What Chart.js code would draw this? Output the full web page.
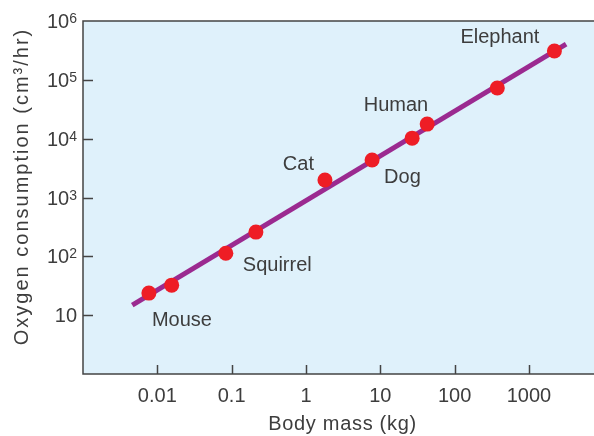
<!DOCTYPE html>
<html>
<head>
<meta charset="utf-8">
<script src="https://cdn.jsdelivr.net/npm/chart.js@4/dist/chart.umd.min.js"></script>
<style>
  html, body { margin: 0; padding: 0; background: #fff; }
  canvas { display: block; }
</style>
</head>
<body>
<canvas id="chart" width="594" height="436"></canvas>
<script>
// Datos (escala log-log)
const animalNames = ['Mouse', '', 'Squirrel', '', 'Cat', 'Dog', '', 'Human', '', 'Elephant'];
const bodyMass = [0.0077, 0.0156, 0.0835, 0.212, 1.80, 7.75, 26.8, 42.7, 375, 2200];
const oxygenUse = [23.7, 32.4, 113, 258, 1980, 4330, 10200, 17700, 72600, 309000];

// Recta de ajuste (extremos)
const fitMass = [0.0046, 3160];
const fitOxygen = [14.8, 406000];

// Marcas de los ejes
const xTickValues = [0.01, 0.1, 1, 10, 100, 1000];
const xTickLabels = ['0.01', '0.1', '1', '10', '100', '1000'];
const yTickValues = [10, 100, 1000, 10000, 100000, 1000000];
const yTickExponents = ['', '2', '3', '4', '5', '6'];

const xTitle = 'Body mass (kg)';
const yTitle = 'Oxygen consumption (cm³/hr)';

// Posicion de cada etiqueta respecto a su punto: [dx, dy, alineacion]
const labelOffsets = {
    Mouse: [3, 33, 'left'],
    Squirrel: [17, 17.5, 'left'],
    Cat: [-11, -10.5, 'right'],
    Dog: [12, 23, 'left'],
    Human: [1, -13.5, 'right'],
    Elephant: [-15, -8, 'right']
};

const textColor = '#3d3d3d';
const axisColor = '#444444';
const font = '20px "Liberation Sans", Arial, sans-serif';

const figurePlugin = {
    id: 'figure',
    beforeDraw(chart) {
        const { ctx, chartArea } = chart;
        ctx.save();
        ctx.fillStyle = '#dff1fb';
        ctx.fillRect(chartArea.left, chartArea.top, chartArea.right - chartArea.left, chartArea.bottom - chartArea.top);
        ctx.restore();
    },
    afterDraw(chart) {
        const { ctx, chartArea } = chart;
        const x = chart.scales.x, y = chart.scales.y;
        ctx.save();

        // marco: arriba, izquierda, abajo
        ctx.strokeStyle = axisColor;
        ctx.lineWidth = 1.5;
        ctx.beginPath();
        ctx.moveTo(chartArea.right, chartArea.top);
        ctx.lineTo(chartArea.left, chartArea.top);
        ctx.lineTo(chartArea.left, chartArea.bottom);
        ctx.lineTo(chartArea.right, chartArea.bottom);
        ctx.stroke();

        // marcas hacia dentro
        ctx.beginPath();
        xTickValues.forEach(v => {
            const px = Math.round(x.getPixelForValue(v)) + 0.5;
            ctx.moveTo(px, chartArea.bottom);
            ctx.lineTo(px, chartArea.bottom - 9);
        });
        yTickValues.slice(0, -1).forEach(v => {
            const py = Math.round(y.getPixelForValue(v)) + 0.5;
            ctx.moveTo(chartArea.left, py);
            ctx.lineTo(chartArea.left + 10, py);
        });
        ctx.stroke();

        ctx.fillStyle = textColor;
        ctx.font = font;

        // etiquetas eje x
        ctx.textAlign = 'center';
        ctx.textBaseline = 'alphabetic';
        xTickValues.forEach((v, i) => {
            ctx.fillText(xTickLabels[i], x.getPixelForValue(v), 402);
        });

        // etiquetas eje y con exponente
        const supFont = '14px "Liberation Sans", Arial, sans-serif';
        yTickValues.forEach((v, i) => {
            const py = y.getPixelForValue(v);
            const right = chartArea.left - 6;
            const exp = yTickExponents[i];
            ctx.textAlign = 'right';
            if (exp) {
                ctx.font = supFont;
                const w = ctx.measureText(exp).width;
                ctx.fillText(exp, right, py + 2);
                ctx.font = font;
                ctx.fillText('10', right - w, py + 7);
            } else {
                ctx.font = font;
                ctx.fillText('10', right, py + 7);
            }
        });

        // titulos
        ctx.font = font;
        ctx.textAlign = 'center';
        ctx.letterSpacing = '0.7px';
        ctx.fillText(xTitle, (chartArea.left + chartArea.right) / 2 + 4, 430);
        ctx.save();
        ctx.letterSpacing = '2px';
        ctx.translate(27.5, 186.5);
        ctx.rotate(-Math.PI / 2);
        ctx.fillText(yTitle, 0, 0);
        ctx.restore();
        ctx.letterSpacing = '0px';

        // nombres de los animales
        const meta = chart.getDatasetMeta(0);
        animalNames.forEach((name, i) => {
            if (!name) return;
            const pt = meta.data[i];
            const off = labelOffsets[name];
            ctx.textAlign = off[2];
            ctx.fillText(name, pt.x + off[0], pt.y + off[1]);
        });

        ctx.restore();
    }
};

new Chart(document.getElementById('chart'), {
    type: 'scatter',
    data: {
        datasets: [
            {
                label: 'Animals',
                data: bodyMass.map((m, i) => ({ x: m, y: oxygenUse[i] })),
                pointRadius: 7.5,
                pointHoverRadius: 7.5,
                pointBackgroundColor: '#ee1d25',
                pointBorderWidth: 0,
                showLine: false,
                order: 0
            },
            {
                label: 'Fit',
                data: fitMass.map((m, i) => ({ x: m, y: fitOxygen[i] })),
                showLine: true,
                borderColor: '#9b2a90',
                borderWidth: 5,
                borderCapStyle: 'butt',
                pointRadius: 0,
                order: 1
            }
        ]
    },
    options: {
        responsive: false,
        animation: false,
        devicePixelRatio: 1,
        layout: { autoPadding: false, padding: { top: 21, right: 0, left: 0, bottom: 0 } },
        plugins: {
            legend: { display: false },
            tooltip: { enabled: false }
        },
        scales: {
            x: {
                type: 'logarithmic',
                min: 0.001,
                max: 7500,
                grid: { display: false },
                border: { display: false },
                ticks: { display: false },
                afterFit: function (scale) {
                    scale.height = 62;
                    scale.paddingLeft = 0;
                    scale.paddingRight = 0;
                }
            },
            y: {
                type: 'logarithmic',
                min: 1,
                max: 1000000,
                grid: { display: false },
                border: { display: false },
                ticks: { display: false },
                afterFit: function (scale) {
                    scale.width = 83;
                    scale.paddingTop = 0;
                    scale.paddingBottom = 0;
                }
            }
        }
    },
    plugins: [figurePlugin]
});
</script>
</body>
</html>
